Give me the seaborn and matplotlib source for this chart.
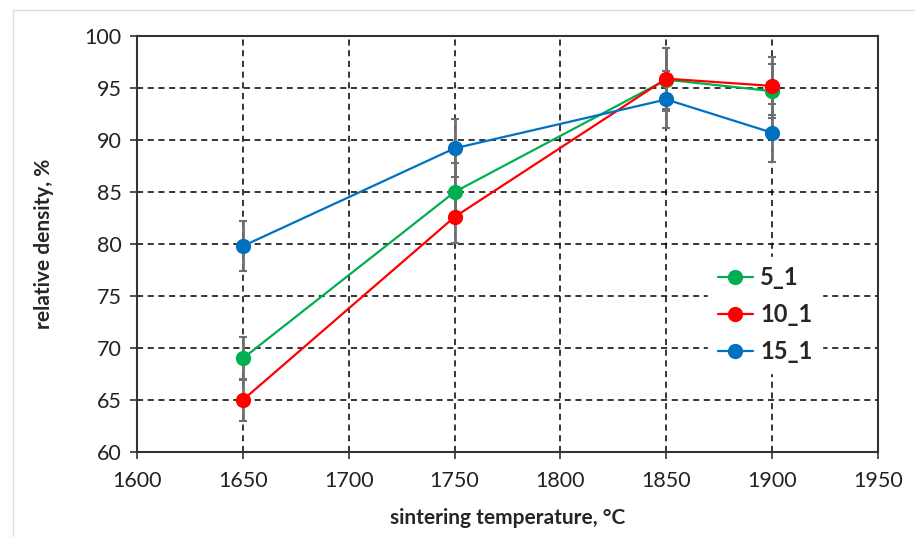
import matplotlib
matplotlib.use("Agg")
import matplotlib.pyplot as plt
import seaborn as sns
import pandas as pd
from matplotlib.lines import Line2D

temps = [1650, 1750, 1850, 1900]
series_names = ["5_1", "10_1", "15_1"]
dens_5_1 = [69.0, 85.0, 95.8, 94.7]
err_5_1 = [2.1, 2.8, 3.0, 2.6]
dens_10_1 = [65.0, 82.6, 95.9, 95.2]
err_10_1 = [2.0, 2.5, 2.9, 2.8]
dens_15_1 = [79.8, 89.2, 93.9, 90.7]
err_15_1 = [2.4, 2.8, 2.7, 2.8]
colors = ["#00B050", "#FF0000", "#0070C0"]

x_ticks = [1600, 1650, 1700, 1750, 1800, 1850, 1900, 1950]
y_ticks = [60, 65, 70, 75, 80, 85, 90, 95, 100]

sns.set_theme(style="white")
plt.rcParams["font.family"] = ["Lato", "DejaVu Sans"]

rows = []
for name, vals, errs in zip(series_names, [dens_5_1, dens_10_1, dens_15_1],
                            [err_5_1, err_10_1, err_15_1]):
    for t, v, e in zip(temps, vals, errs):
        rows.append({"temp": t, "density": v, "err": e, "series": name})
df = pd.DataFrame(rows)

fig = plt.figure(figsize=(9.15, 5.37), dpi=100)
W, H = 915, 537
left, right, top, bottom = 137, 878, 36, 452
ax = fig.add_axes([left / W, 1 - bottom / H, (right - left) / W, (bottom - top) / H])

# light outer frame
fig.add_artist(Line2D([13 / W, 1], [1 - 10 / H, 1 - 10 / H], color="#dddddd", lw=1))
fig.add_artist(Line2D([13 / W, 13 / W], [0, 1 - 10 / H], color="#dddddd", lw=1))

# error bars
for name in series_names:
    sub = df[df.series == name]
    ax.errorbar(sub.temp, sub.density, yerr=sub.err, fmt="none", ecolor="#6f6f6f",
                elinewidth=2, capsize=3, capthick=1.5, zorder=2)

sns.lineplot(data=df, x="temp", y="density", hue="series", hue_order=series_names,
             palette=colors, marker="o", markersize=11, markeredgewidth=0,
             linewidth=1.6, ax=ax, legend=False, zorder=3)

ax.set_xlim(1600, 1950)
ax.set_ylim(60, 100)
ax.set_xticks(x_ticks)
ax.set_yticks(y_ticks)
ax.set_xticklabels([str(v) for v in x_ticks], fontsize=15.5, color="#222222")
ax.set_yticklabels([str(v) for v in y_ticks], fontsize=15.5, color="#222222")
ax.tick_params(axis="both", direction="out", length=5, width=1.2, color="#333333",
               left=True, bottom=True)
ax.tick_params(axis="x", pad=9)
ax.tick_params(axis="y", pad=6)
ax.grid(True, which="major", color="black", linestyle=(0, (4, 3)), linewidth=1.1)
for s in ax.spines.values():
    s.set_visible(True)
    s.set_color("#333333")
    s.set_linewidth(1.5)

ax.set_xlabel("sintering temperature, °C", fontsize=15, fontweight="bold", labelpad=12)
ax.set_ylabel("relative density, %", fontsize=15, fontweight="bold", labelpad=22)

handles = [Line2D([0], [0], color=c, lw=1.6, marker="o", markersize=11, markeredgewidth=0)
           for c in colors]
leg = ax.legend(handles, series_names, loc="center left", bbox_to_anchor=(0.755, 0.33),
                frameon=True, fancybox=False, framealpha=1, edgecolor="white",
                facecolor="white", prop={"weight": "bold", "size": 17},
                handlelength=1.5, handletextpad=0.3, labelspacing=0.6, borderpad=0.4)
leg.set_zorder(5)

fig.savefig("out.png", dpi=100)
